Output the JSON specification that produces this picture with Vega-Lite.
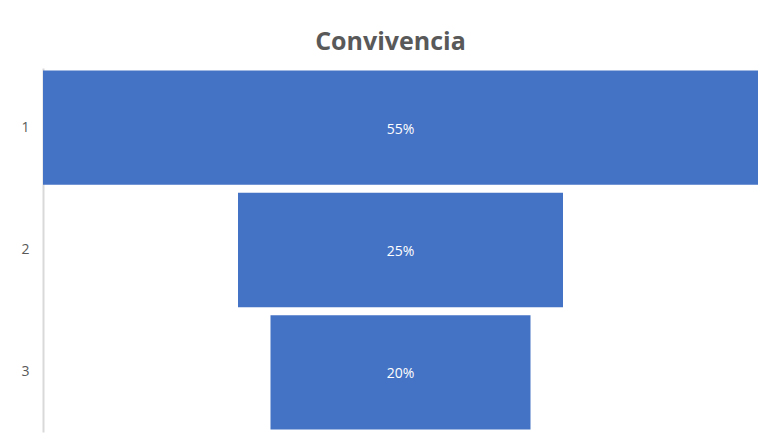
{
  "$schema": "https://vega.github.io/schema/vega-lite/v6.json",
  "autosize": {"type": "none"},
  "width": 715,
  "height": 364,
  "padding": {"left": 43, "top": 68, "right": 2, "bottom": 4},
  "background": "white",
  "title": {
    "text": "Convivencia",
    "font": "Open Sans",
    "fontSize": 25,
    "fontWeight": "bold",
    "color": "#595959",
    "anchor": "middle",
    "offset": 13,
    "dx": -10
  },
  "data": {
    "values": [
      {"etapa": "1", "valor": 55, "etiqueta": "55%"},
      {"etapa": "2", "valor": 25, "etiqueta": "25%"},
      {"etapa": "3", "valor": 20, "etiqueta": "20%"}
    ]
  },
  "encoding": {
    "y": {
      "field": "etapa",
      "type": "nominal",
      "sort": null,
      "title": null,
      "scale": {"paddingInner": 0.066, "paddingOuter": 0.02},
      "axis": {
        "domainColor": "#d9d9d9",
        "domainWidth": 2,
        "ticks": false,
        "labelPadding": 14,
        "labelFont": "Open Sans",
        "labelFontSize": 14,
        "labelColor": "#595959"
      }
    }
  },
  "layer": [
    {
      "mark": {"type": "bar", "color": "#4472c4"},
      "encoding": {
        "x": {
          "field": "valor",
          "type": "quantitative",
          "stack": "center",
          "scale": {"domain": [0, 55], "nice": false},
          "axis": null
        }
      }
    },
    {
      "mark": {"type": "text", "color": "white", "font": "Open Sans", "fontSize": 14, "align": "center", "baseline": "middle", "dy": 2},
      "encoding": {
        "x": {"datum": 27.5, "type": "quantitative"},
        "text": {"field": "etiqueta"}
      }
    }
  ],
  "config": {"view": {"stroke": null}}
}
